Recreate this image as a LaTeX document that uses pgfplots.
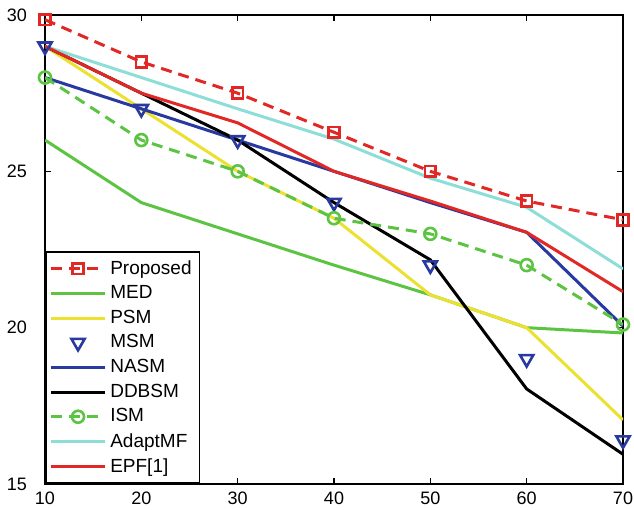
\documentclass[border=0pt]{standalone}
\usepackage{fontspec}
\setmainfont{Liberation Sans}
\usepackage{pgfplots}
\pgfplotsset{compat=1.18}

\definecolor{cred}{RGB}{226,40,36}
\definecolor{cgreen}{RGB}{92,196,66}
\definecolor{cyellow}{RGB}{236,224,48}
\definecolor{cblue}{RGB}{40,58,160}
\definecolor{ccyan}{RGB}{140,222,214}

\begin{document}
\begin{tikzpicture}
\begin{axis}[
  name=ax,
  scale only axis,
  width=289pt, height=234.5pt,
  xmin=10, xmax=70, ymin=15, ymax=30,
  xtick={10,20,...,70},
  ytick={15,20,25,30},
  tick align=inside,
  major tick length=3pt,
  tick style={black, line width=0.6pt},
  axis line style={line width=0.8pt},
  ticklabel style={font=\fontsize{9}{10}\selectfont},
  yticklabel style={xshift=-5.5pt},
  xticklabel style={yshift=-0.5pt},
  /pgf/number format/assume math mode=true,
  legend style={at={(0,0)}, anchor=south west, draw=black, line width=0.8pt,
    font=\fontsize{9.5}{12.7}\selectfont, row sep=0.2pt,
    inner xsep=2pt, inner ysep=2pt},
  legend cell align=left,
  legend image code/.code={
    \draw[mark repeat=2,mark phase=2] plot coordinates {(0cm,0cm) (0.47cm,0cm) (0.94cm,0cm)};},
  every axis plot/.append style={line width=1.5pt},
]
\addplot[cred, dash pattern=on 5.5pt off 3.5pt, mark=square, mark size=2.7pt,
  mark options={solid, line width=1.3pt}]
  coordinates {(10,29.85)(20,28.5)(30,27.5)(40,26.25)(50,25.0)(60,24.05)(70,23.45)};
\addlegendentry{Proposed}
\addplot[cgreen]
  coordinates {(10,26)(20,24)(30,23)(40,22)(50,21.05)(60,20)(70,19.83)};
\addlegendentry{MED}
\addplot[cyellow]
  coordinates {(10,29)(20,27)(30,25)(40,23.5)(50,21.05)(60,20)(70,17.05)};
\addlegendentry{PSM}
\addplot[cblue, only marks, mark=triangle, mark size=3.8pt,
  mark options={rotate=180, line width=1.3pt}]
  coordinates {(10,29)(20,27)(30,26)(40,24)(50,22)(60,19)(70,16.4)};
\addlegendentry{MSM}
\addplot[cblue]
  coordinates {(10,28)(20,27)(30,26)(40,25)(50,24)(60,23.05)(70,20.05)};
\addlegendentry{NASM}
\addplot[black]
  coordinates {(10,29)(20,27.5)(30,26)(40,24)(50,22.17)(60,18.04)(70,15.95)};
\addlegendentry{DDBSM}
\addplot[cgreen, dash pattern=on 5.5pt off 3.5pt, mark=o, mark size=3pt,
  mark options={solid, line width=1.3pt}]
  coordinates {(10,28)(20,26)(30,25)(40,23.5)(50,23)(60,22)(70,20.1)};
\addlegendentry{ISM}
\addplot[ccyan]
  coordinates {(10,29)(20,28)(30,27)(40,26.03)(50,24.78)(60,23.85)(70,21.88)};
\addlegendentry{AdaptMF}
\addplot[cred]
  coordinates {(10,29)(20,27.5)(30,26.55)(40,25)(50,24.05)(60,23.05)(70,21.15)};
\addlegendentry{EPF[1]}
\end{axis}
% frame the page like the reference: fixed margins round the axis
\pgfresetboundingbox
\path ([xshift=-22.5pt,yshift=-12.5pt]ax.south west) rectangle ([xshift=5.5pt,yshift=7.5pt]ax.north east);
\end{tikzpicture}
\end{document}
